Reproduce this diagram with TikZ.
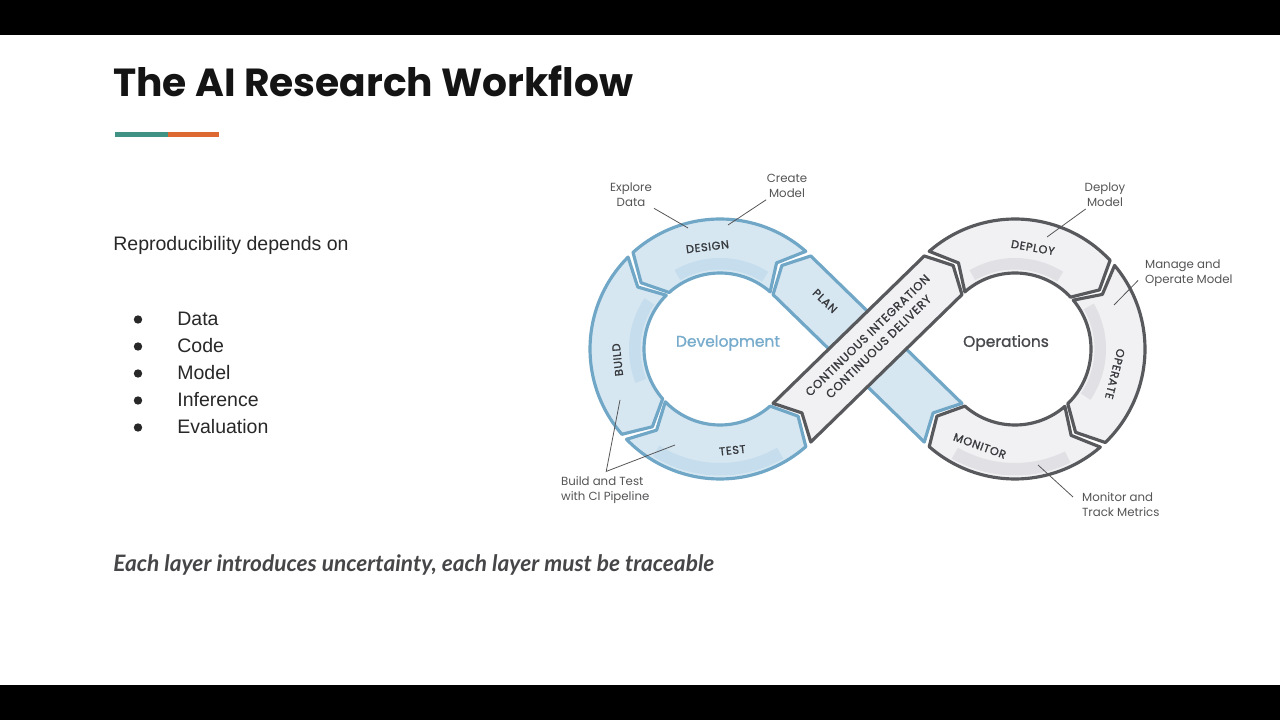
\documentclass[tikz,border=0pt]{standalone}
\usepackage{fontspec}
\setmainfont{Liberation Sans}
\newfontfamily\titlefont{Poppins}
\newfontfamily\labfont{Poppins}
\newfontfamily\medfont{Poppins}[FakeBold=1.2]
\newfontfamily\segfont{Poppins}[LetterSpace=6, FakeBold=1.4]
\newfontfamily\latofont{Lato}
\usetikzlibrary{calc}
\definecolor{bline}{RGB}{112,166,198}
\definecolor{bfill}{RGB}{214,231,242}
\definecolor{bstripe}{RGB}{197,221,236}
\definecolor{gline}{RGB}{88,89,92}
\definecolor{gfill}{RGB}{241,241,243}
\definecolor{gstripe}{RGB}{225,225,229}
\definecolor{segtext}{RGB}{55,57,61}
\definecolor{labtext}{RGB}{85,85,88}
\definecolor{devblue}{RGB}{120,172,205}
\definecolor{opsgray}{RGB}{70,72,76}
\definecolor{titlecol}{RGB}{20,20,20}
\definecolor{bodycol}{RGB}{40,40,40}
\definecolor{italcol}{RGB}{70,70,72}
\definecolor{tealbar}{RGB}{64,147,132}
\definecolor{orngbar}{RGB}{222,104,50}
\def\Ro{130}\def\Ri{76}\def\Rm{103}
\def\cLx{720}\def\cLy{371}\def\cRx{1015}\def\cRy{371}
% ring segment: cx, cy, tail angle, head angle, tip delta (signed), style
\newcommand\ringseg[6]{%
  \pgfmathsetmacro\hdA{#4+(#5)}\pgfmathsetmacro\tlA{#3+(#5)}%
  \path[#6] plot[domain=#3:#4,samples=40] ({#1+\Ro*cos(\x)},{#2+\Ro*sin(\x)})
    -- ({#1+\Rm*cos(\hdA)},{#2+\Rm*sin(\hdA)})
    -- plot[domain=#4:#3,samples=40] ({#1+\Ri*cos(\x)},{#2+\Ri*sin(\x)})
    -- ({#1+\Rm*cos(\tlA)},{#2+\Rm*sin(\tlA)}) -- cycle;}
% straight band: Ax, Ay, ux, uy, t tail, t head, delta, style
\newcommand\bandseg[8]{%
  \pgfmathsetmacro\bnx{-(#4)}\pgfmathsetmacro\bny{#3}\def\hw{27}%
  \path[#8] ({#1+(#5)*(#3)+\hw*\bnx},{#2+(#5)*(#4)+\hw*\bny})
    -- ({#1+(#6)*(#3)+\hw*\bnx},{#2+(#6)*(#4)+\hw*\bny})
    -- ({#1+(#6+#7)*(#3)},{#2+(#6+#7)*(#4)})
    -- ({#1+(#6)*(#3)-\hw*\bnx},{#2+(#6)*(#4)-\hw*\bny})
    -- ({#1+(#5)*(#3)-\hw*\bnx},{#2+(#5)*(#4)-\hw*\bny})
    -- ({#1+(#5+#7)*(#3)},{#2+(#5+#7)*(#4)}) -- cycle;}
% stripe: cx, cy, a1, a2, r1, r2, colour
\newcommand\ringstripe[7]{%
  \fill[#7] plot[domain=#3:#4,samples=30] ({#1+#6*cos(\x)},{#2+#6*sin(\x)})
    -- plot[domain=#4:#3,samples=30] ({#1+#5*cos(\x)},{#2+#5*sin(\x)}) -- cycle;}
\tikzset{
  blueseg/.style={fill=bfill, draw=bline, line width=1.8pt, line join=round},
  grayseg/.style={fill=gfill, draw=gline, line width=1.8pt, line join=round},
  seglab/.style={font=\segfont\fontsize{6.4}{8}\selectfont, text=segtext, inner sep=0pt, align=center},
  lab/.style={font=\labfont\fontsize{6.7}{8.5}\selectfont, text=labtext, inner sep=1pt},
  leader/.style={draw=labtext, line width=0.45pt},
  bodytext/.style={font=\fontsize{11.1}{13}\selectfont, text=bodycol, inner sep=0pt, anchor=base west},
  bulletdot/.style={fill=bodycol},
}
\begin{document}
\begin{tikzpicture}[x=0.02cm,y=0.02cm]
\fill[black] (0,0) rectangle (1280,720);
\fill[white] (0,35) rectangle (1280,685);
\useasboundingbox (0,0) rectangle (1280,720);

% title
\node[anchor=base west, inner sep=0pt, text=titlecol, font=\titlefont\bfseries\fontsize{22.3}{27}\selectfont] (title) at (113,623) {The AI Research Workflow};
\fill[tealbar] (115,583) rectangle (168,588);
\fill[orngbar] (168,583) rectangle (219,588);

% left text
\node[bodytext] (repro) at (113,469) {Reproducibility depends on};
\foreach \t/\yy [count=\i] in {Data/394, Code/367, Model/340, Inference/313, Evaluation/286}{
  \node[bodytext] (item\i) at (177,\yy) {\t};
  \fill[bulletdot] (138,\yy+6.5) circle (4.2);
}
\node[anchor=base west, inner sep=0pt, text=italcol, font=\latofont\bfseries\itshape\fontsize{12.9}{15}\selectfont] (motto) at (113,149) {Each layer introduces uncertainty, each layer must be traceable};

% ---- diagram ----
% left loop (Development)
\ringseg{\cLx}{\cLy}{48.7}{132}{8}{blueseg}
\ringseg{\cLx}{\cLy}{135}{221}{8}{blueseg}
\ringseg{\cLx}{\cLy}{224}{311.3}{8}{blueseg}
\ringstripe{\cLx}{\cLy}{58}{120}{79.5}{91}{bstripe}
\ringstripe{\cLx}{\cLy}{146}{202}{79.5}{91}{bstripe}
\ringstripe{\cLx}{\cLy}{238}{300}{114}{126.5}{bstripe}
% right loop (Operations)
\ringseg{\cRx}{\cRy}{131.3}{43}{-8}{grayseg}
\ringseg{\cRx}{\cRy}{40}{-46}{-8}{grayseg}
\ringseg{\cRx}{\cRy}{-49}{-131.3}{-8}{grayseg}
\ringstripe{\cRx}{\cRy}{58}{120}{79.5}{91}{gstripe}
\ringstripe{\cRx}{\cRy}{-34}{30}{79.5}{91}{gstripe}
\ringstripe{\cRx}{\cRy}{-120}{-64}{114}{126.5}{gstripe}
% blue band (plan) under the ribbon
\bandseg{943.1}{297.3}{-0.716}{0.698}{0}{211.2}{14}{blueseg}
% CI/CD ribbon
\bandseg{791.9}{297.3}{0.716}{0.698}{0}{211.2}{14}{grayseg}

% segment labels
\node[seglab, rotate=7] (design) at ({\cLx+103*cos(97)},{\cLy+103*sin(97)}) {DESIGN};
\node[seglab, rotate=96] (build) at ({\cLx+103*cos(186)},{\cLy+103*sin(186)}) {BUILD};
\node[seglab, rotate=6] (test) at ({\cLx+102*cos(277)},{\cLy+102*sin(277)}) {TEST};
\node[seglab, rotate=-44] (plan) at (825,419) {PLAN};
\node[seglab, rotate=-10] (deploy) at ({\cRx+103*cos(80)},{\cRy+103*sin(80)}) {DEPLOY};
\node[seglab, rotate=-104] (operate) at ({\cRx+103*cos(-14)},{\cRy+103*sin(-14)}) {OPERATE};
\node[seglab, rotate=-20] (monitor) at ({\cRx+103*cos(250)},{\cRy+103*sin(250)}) {MONITOR};
\node[seglab, rotate=44.3, font=\segfont\fontsize{6.7}{9}\selectfont] (cicd) at (873,379) {CONTINUOUS INTEGRATION\\CONTINUOUS DELIVERY};

\node[text=devblue, font=\medfont\fontsize{8.8}{10}\selectfont, inner sep=0pt] (dev) at (728,377) {Development};
\node[text=opsgray, font=\medfont\fontsize{8.8}{10}\selectfont, inner sep=0pt] (ops) at (1006,377) {Operations};

% outside labels with leaders
\node[lab, align=center] (explore) at (631,525) {Explore\\Data};
\coordinate (exploreP) at (688,492);
\draw[leader] (explore) -- (exploreP);

\node[lab, align=center] (create) at (787,534) {Create\\Model};
\coordinate (createP) at (728,495);
\draw[leader] (create) -- (createP);

\node[lab, align=center] (deploylab) at (1105,525) {Deploy\\Model};
\coordinate (deployP) at (1047,483);
\draw[leader] (deploylab) -- (deployP);

\node[lab, align=left, anchor=west] (manage) at (1143,447) {Manage and\\Operate Model};
\coordinate (manageP) at (1114,415);
\draw[leader] ([xshift=-0.1cm,yshift=-0.15cm]manage.west) -- (manageP);

\node[lab, align=left, anchor=west] (monlab) at (1080,215) {Monitor and\\Track Metrics};
\coordinate (monP) at (1038,255);
\draw[leader] ([xshift=-0.14cm,yshift=0.16cm]monlab.west) -- (monP);

\node[lab, align=left, anchor=west] (btlab) at (559,230) {Build and Test\\with CI Pipeline};
\coordinate (btV) at ($(btlab.north)+(1,3)$);
\coordinate (buildP) at (620,320);
\coordinate (testP) at (675,275);
\draw[leader] (buildP) -- (btV) -- (testP);
\end{tikzpicture}
\end{document}
